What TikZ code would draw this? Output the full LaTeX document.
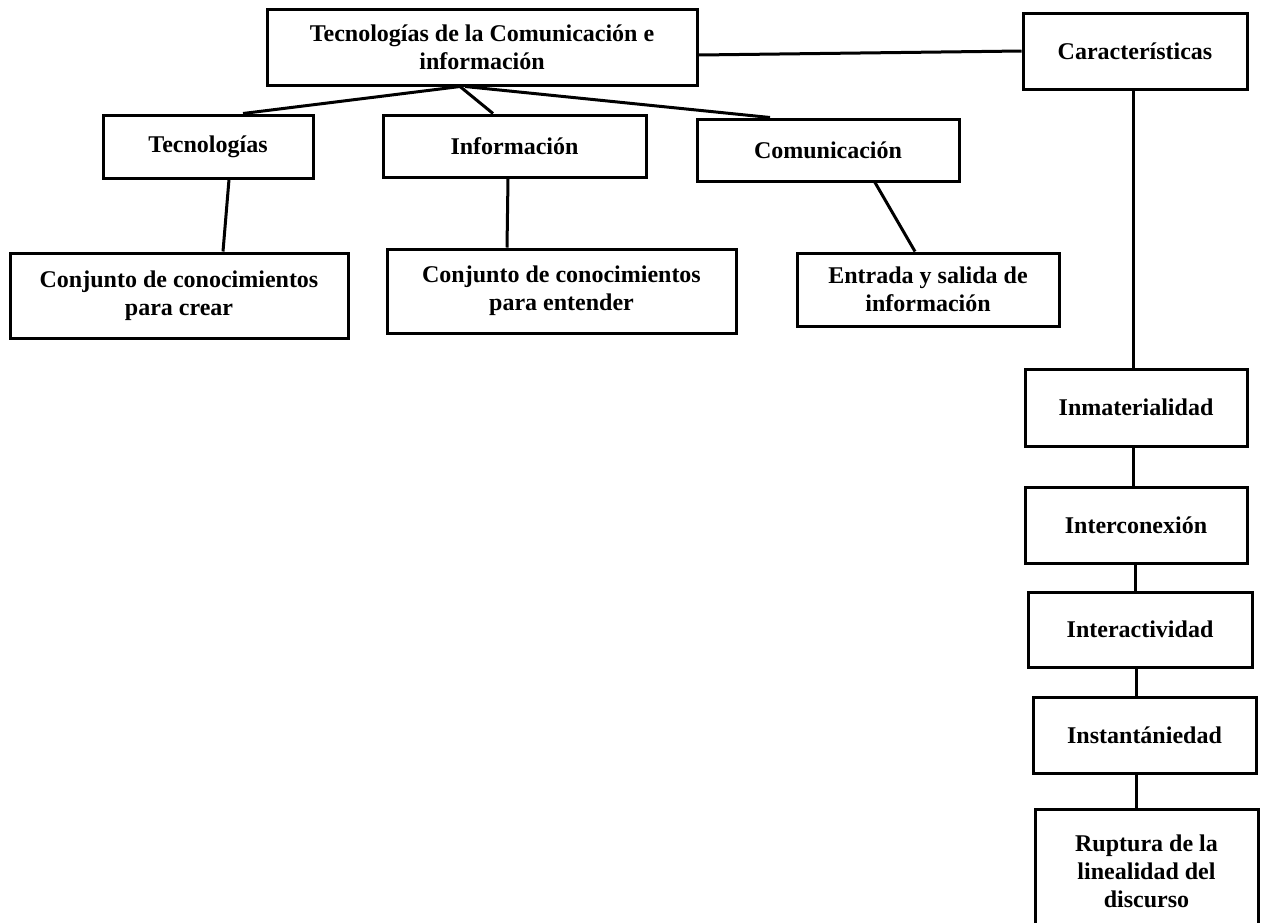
\documentclass[tikz,border=0pt]{standalone}
\usepackage{fontspec}
\setmainfont{Liberation Serif}
\usetikzlibrary{
  arrows,
  shapes
}

\begin{document}
\begin{tikzpicture}[
  x=1pt, y=-1pt,
  line width=3pt,
  every node/.style = {shape=rectangle,
    draw, align=center, inner sep=0pt,
    font=\fontsize{24}{28}\selectfont\bfseries}]
    \tikzstyle{link}=[line width=3pt]
  \useasboundingbox (0,0) rectangle (1263,922);
  % top row
  \node[minimum width=430pt, minimum height=76pt] (tic) at (482,47)
    {Tecnologías de la Comunicación e\\información};
  \node[minimum width=224pt, minimum height=76pt] (car) at (1135,51)
    {Características};
  % second row
  \node[minimum width=210pt, minimum height=63pt] (tec) at (208,146.5) {Tecnologías};
  \node[minimum width=263pt, minimum height=62pt] (inf) at (514.5,146) {Información};
  \node[minimum width=262pt, minimum height=62pt] (com) at (828,150) {Comunicación};
  % third row
  \node[minimum width=338pt, minimum height=85pt] (crear) at (179,295.5)
    {Conjunto de conocimientos\\para crear};
  \node[minimum width=349pt, minimum height=84pt] (entender) at (561.5,291)
    {Conjunto de conocimientos\\para entender};
  \node[minimum width=262pt, minimum height=73pt] (entrada) at (928,289.5)
    {Entrada y salida de\\información};
  % characteristics column
  \node[minimum width=222pt, minimum height=77pt] (inm) at (1136,407.5) {Inmaterialidad};
  \node[minimum width=222pt, minimum height=76pt] (icx) at (1136,525) {Interconexión};
  \node[minimum width=224pt, minimum height=75pt] (iac) at (1140,629.5) {Interactividad};
  \node[minimum width=223pt, minimum height=76pt] (ins) at (1144.5,735) {Instantániedad};
  \node[minimum width=223pt, minimum height=124pt] (rup) at (1146.5,871)
    {Ruptura de la\\linealidad del\\discurso};

  \draw[link] ([yshift=-8pt]tic.east) -- (car.west);
  \draw[link] ([xshift=-22pt]tic.south) -- ([xshift=35pt]tec.north);
  \draw[link] ([xshift=-22pt]tic.south) -- ([xshift=-21.5pt]inf.north);
  \draw[link] ([xshift=-17pt]tic.south) -- ([xshift=-58pt]com.north);
  \draw[link] ([xshift=21pt]tec.south) -- ([xshift=44pt]crear.north);
  \draw[link] ([xshift=-6.5pt]inf.south) -- ([xshift=-54.5pt]entender.north);
  \draw[link] ([xshift=47pt]com.south) -- ([xshift=-13pt]entrada.north);
  \draw[link] ([xshift=-2pt]car.south) -- ([xshift=-3pt]inm.north);
  \draw[link] ([xshift=-3pt]inm.south) -- ([xshift=-3pt]icx.north);
  \draw[link] ([xshift=-1pt]icx.south) -- ([xshift=-5pt]iac.north);
  \draw[link] ([xshift=-4pt]iac.south) -- ([xshift=-8.5pt]ins.north);
  \draw[link] ([xshift=-8.5pt]ins.south) -- ([xshift=-10.5pt]rup.north);
\end{tikzpicture}
\end{document}
